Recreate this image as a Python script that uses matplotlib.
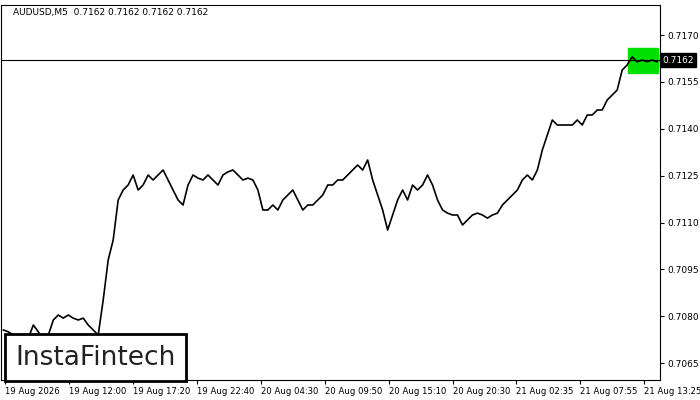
import matplotlib.pyplot as plt
from matplotlib.patches import Rectangle

# pixel-traced y of the close line, one value every 5 bars (5-minute bars)
pix_y = [330, 332, 335, 338, 340, 338, 325, 332, 340, 335, 320, 315, 318, 315, 318, 320, 318,
         325, 330, 335, 300, 260, 240, 200, 190, 185, 175, 190, 185, 175, 180, 175, 170, 180,
         190, 200, 205, 185, 175, 178, 180, 175, 180, 185, 175, 172, 170, 175, 180, 178, 180,
         190, 210, 210, 205, 210, 200, 195, 190, 200, 210, 205, 205, 200, 195, 185, 185, 180,
         180, 175, 170, 165, 170, 160, 180, 195, 210, 230, 215, 200, 190, 200, 185, 190, 185,
         175, 185, 200, 210, 213, 215, 215, 225, 220, 215, 213, 215, 218, 215, 213, 205, 200,
         195, 190, 180, 175, 180, 170, 150, 135, 120, 125, 125, 125, 125, 120, 125, 115, 115,
         110, 110, 100, 95, 90, 70, 65, 57, 62, 60, 62, 60, 62]
closes = [round(0.7170 - (y - 35) * 0.000032, 5) for y in pix_y]
bar_x = [5 * i + 2 for i in range(len(closes))]

price_ticks = [0.7065, 0.7080, 0.7095, 0.7110, 0.7125, 0.7140, 0.7155, 0.7170]
time_labels = ["19 Aug 2026", "19 Aug 12:00", "19 Aug 17:20", "19 Aug 22:40", "20 Aug 04:30",
               "20 Aug 09:50", "20 Aug 15:10", "20 Aug 20:30", "21 Aug 02:35", "21 Aug 07:55",
               "21 Aug 13:25"]
time_pos = [4 + 64 * i for i in range(len(time_labels))]
current = 0.7162

fig = plt.figure(figsize=(7, 4), dpi=100)
ax = fig.add_axes([0.002, 0.05, 0.941, 0.9375])
ax.set_xlim(0, 660)
ax.set_ylim(0.70596, 0.71796)

ax.plot(bar_x, closes, color="black", lw=1.2)
ax.axhline(current, color="black", lw=0.8)
ax.add_patch(Rectangle((628, 0.7158), 30, 0.00077, color="#00e000", zorder=1))

ax.yaxis.tick_right()
ax.set_yticks(price_ticks)
ax.set_yticklabels([f"{p:.4f}" for p in price_ticks], fontsize=6.5)
ax.set_xticks(time_pos)
ax.set_xticklabels(time_labels, fontsize=6.1, ha="left")
ax.tick_params(length=3, pad=2)
ax.text(1.004, current, f"{current:.4f}", transform=ax.get_yaxis_transform(), fontsize=6.5,
        color="white", va="center", bbox=dict(boxstyle="square,pad=0.25", fc="black", ec="black"))

ax.text(12, 0.71785, "AUDUSD,M5  0.7162 0.7162 0.7162 0.7162", fontsize=6.5, va="top")
ax.text(14, 0.70625, "InstaFintech", fontsize=19, va="bottom", color="#222222",
        bbox=dict(boxstyle="square,pad=0.4", fc="white", ec="black", lw=2))

fig.savefig("out.png", dpi=100)
